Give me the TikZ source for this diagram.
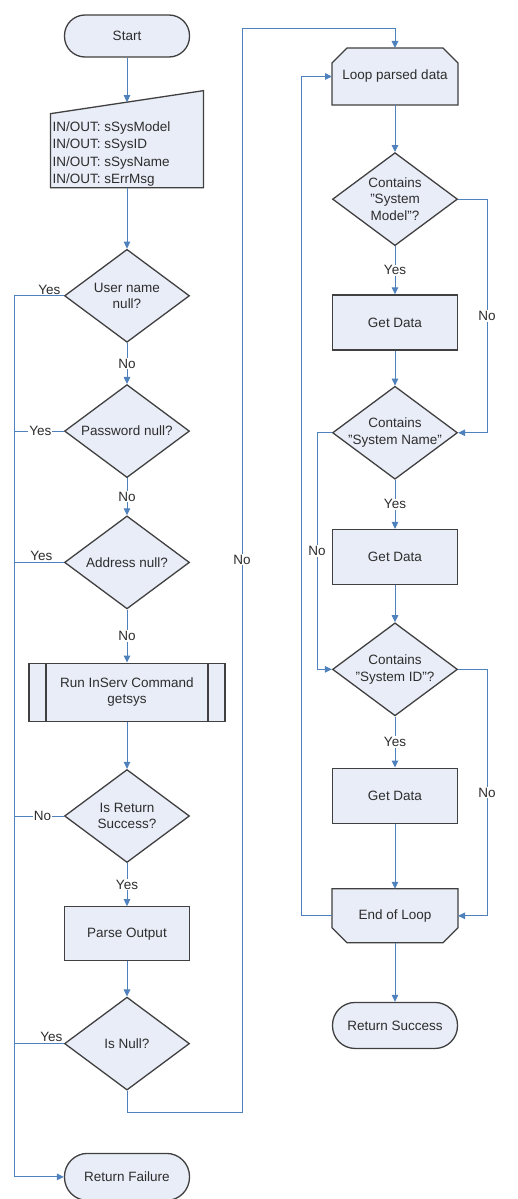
\documentclass[tikz,border=0pt]{standalone}
\usepackage{fontspec}
\setmainfont{Liberation Sans}
\usetikzlibrary{
		calc,
		positioning,
		arrows.meta,
		shapes.geometric
	}
\definecolor{flowblue}{RGB}{79,129,189}
\definecolor{boxfill}{RGB}{233,237,247}
\definecolor{boxline}{RGB}{64,64,64}
\definecolor{txtgray}{RGB}{45,45,45}
\tikzset{
		>={Triangle[length=7pt,width=6.5pt]}
	}

\begin{document}
\begin{tikzpicture}[x=1pt, y=1pt,
		every node/.style={font=\fontsize{13.5}{16.5}\selectfont, text=txtgray},
		every label/.style={align=center},
		shapeline/.style={draw=boxline, line width=1.3pt, fill=boxfill},
		terminal/.style={shapeline, rectangle, rounded corners=20.5pt, minimum width=125pt, minimum height=42pt},
		process/.style={shapeline, rectangle, minimum width=125pt, minimum height=55pt, align=center},
		decision/.style={shapeline, diamond, inner sep=0pt, minimum width=125pt, minimum height=93pt},
		subproc/.style={process, minimum width=196pt, minimum height=58pt,
			path picture={\draw[boxline, line width=1.3pt]
				([xshift=17pt]path picture bounding box.north west) -- ([xshift=17pt]path picture bounding box.south west)
				([xshift=-17pt]path picture bounding box.north east) -- ([xshift=-17pt]path picture bounding box.south east);}},
		hidden/.style={rectangle, inner sep=0pt, outer sep=0pt},
		flow/.style={draw=flowblue, line width=1pt, ->},
		line/.style={draw=flowblue, line width=1pt},
		tag/.style={fill=white, inner sep=1pt}]
		\path[fill=white] (0,0) rectangle (517,-1199);
		\useasboundingbox (0,0) rectangle (517,-1199);
		% left column
		\node[terminal] (start) at (127,-36) {Start};
		\node[hidden, minimum width=153pt, minimum height=97pt, below=33pt of start] (io) {};
		\filldraw[shapeline] (io.south west) -- (io.south east) -- (io.north east) -- ($(io.north west)+(0,-23)$) -- cycle;
		\node[anchor=west, align=left, inner sep=1pt, font=\fontsize{13.5}{17.5}\selectfont] (iotext) at ($(io.west)+(1,-15)$) {IN/OUT: sSysModel\\IN/OUT: sSysID\\IN/OUT: sSysName\\IN/OUT: sErrMsg};
		\coordinate (iotop) at ($(io.north)+(0,-11.5)$);
		\node[decision, label=center:{User name\\null?}, below=61pt of io] (user) {};
		\node[decision, label=center:{Password null?}, below=41pt of user] (pwd) {};
		\node[decision, label=center:{Address null?}, below=37pt of pwd] (addr) {};
		\node[subproc, below=53pt of addr] (run) {Run InServ Command\\getsys};
		\node[decision, label=center:{Is Return\\Success?}, below=47pt of run] (ret) {};
		\node[process, minimum height=54pt, below=43pt of ret] (parse) {Parse Output};
		\node[decision, label=center:{Is Null?}, below=35pt of parse] (isnull) {};
		\node[terminal, minimum height=47pt, rounded corners=23pt, below=62pt of isnull] (fail) {Return Failure};
		% right column
		\node[hidden, minimum width=126pt, minimum height=57pt] (loop) at (395,-76.5) {};
		\filldraw[shapeline] ($(loop.north west)+(15,0)$) -- ($(loop.north east)+(-15,0)$) -- ($(loop.north east)+(0,-15)$) -- (loop.south east) -- (loop.south west) -- ($(loop.north west)+(0,-15)$) -- cycle;
		\node (looptext) at (loop) {Loop parsed data};
		\node[decision, label=center:{Contains\\"System\\Model"?}, below=47pt of loop] (model) {};
		\node[process, below=48pt of model] (get1) {Get Data};
		\node[decision, label=center:{Contains\\"System Name"}, below=35pt of get1] (sysname) {};
		\node[process, below=49pt of sysname] (get2) {Get Data};
		\node[decision, label=center:{Contains\\"System ID"?}, below=37pt of get2] (sysid) {};
		\node[process, below=51pt of sysid] (get3) {Get Data};
		\node[hidden, minimum width=126pt, minimum height=54pt, below=65pt of get3] (endloop) {};
		\filldraw[shapeline] (endloop.north west) -- (endloop.north east) -- ($(endloop.south east)+(0,15)$) -- ($(endloop.south east)+(-15,0)$) -- ($(endloop.south west)+(15,0)$) -- ($(endloop.south west)+(0,15)$) -- cycle;
		\node (endtext) at (endloop) {End of Loop};
		\node[terminal, minimum height=46pt, rounded corners=22.5pt, below=59pt of endloop] (succ) {Return Success};
		% bus lines
		\coordinate (leftbus) at (14,0);
		\coordinate (lowturn) at (242,-1112);
		\coordinate (topturn) at (242,-29);
		\coordinate (backbus) at (301,0);
		\coordinate (leftloop) at (317,0);
		\coordinate (rightbus) at (487,0);
		% left flow
		\draw[flow] (start.south) -- (iotop);
		\draw[flow] (io.south) -- (user.north);
		\draw[flow] (user.south) -- node[tag]{No} (pwd.north);
		\draw[flow] (pwd.south) -- node[tag]{No} (addr.north);
		\draw[flow] (addr.south) -- node[tag]{No} (run.north);
		\draw[flow] (run.south) -- (ret.north);
		\draw[flow] (ret.south) -- node[tag]{Yes} (parse.north);
		\draw[flow] (parse.south) -- (isnull.north);
		\draw[flow] (user.west) -- node[above, pos=0.29, inner sep=1pt]{Yes} (user.west -| leftbus) |- (fail.west);
		\draw[line] (pwd.west) -- node[tag, pos=0.47]{Yes} (pwd.west -| leftbus);
		\draw[line] (addr.west) -- node[above, pos=0.45, inner sep=1pt]{Yes} (addr.west -| leftbus);
		\draw[line] (ret.west) -- node[tag, pos=0.43]{No} (ret.west -| leftbus);
		\draw[line] (isnull.west) -- node[above, pos=0.25, inner sep=1pt]{Yes} (isnull.west -| leftbus);
		\draw[flow] (isnull.south) |- (lowturn) -- node[tag, pos=0.51]{No} (topturn) -| (loop.north);
		% right flow
		\draw[flow] (loop.south) -- (model.north);
		\draw[flow] (model.south) -- node[tag]{Yes} (get1.north);
		\draw[flow] (get1.south) -- (sysname.north);
		\draw[flow] (sysname.south) -- node[tag]{Yes} (get2.north);
		\draw[flow] (get2.south) -- (sysid.north);
		\draw[flow] (sysid.south) -- node[tag]{Yes} (get3.north);
		\draw[flow] (get3.south) -- (endloop.north);
		\draw[flow] (endloop.south) -- (succ.north);
		\draw[flow] (model.east) -- (model.east -| rightbus) -- node[tag]{No} (sysname.east -| rightbus) -- (sysname.east);
		\draw[flow] (sysname.west) -- (sysname.west -| leftloop) -- node[tag]{No} (sysid.west -| leftloop) -- (sysid.west);
		\draw[flow] (sysid.east) -- (sysid.east -| rightbus) -- node[tag]{No} (endloop.east -| rightbus) -- (endloop.east);
		\draw[flow] (endloop.west) -- (endloop.west -| backbus) -- (loop.west -| backbus) -- (loop.west);
	\end{tikzpicture}
\end{document}
